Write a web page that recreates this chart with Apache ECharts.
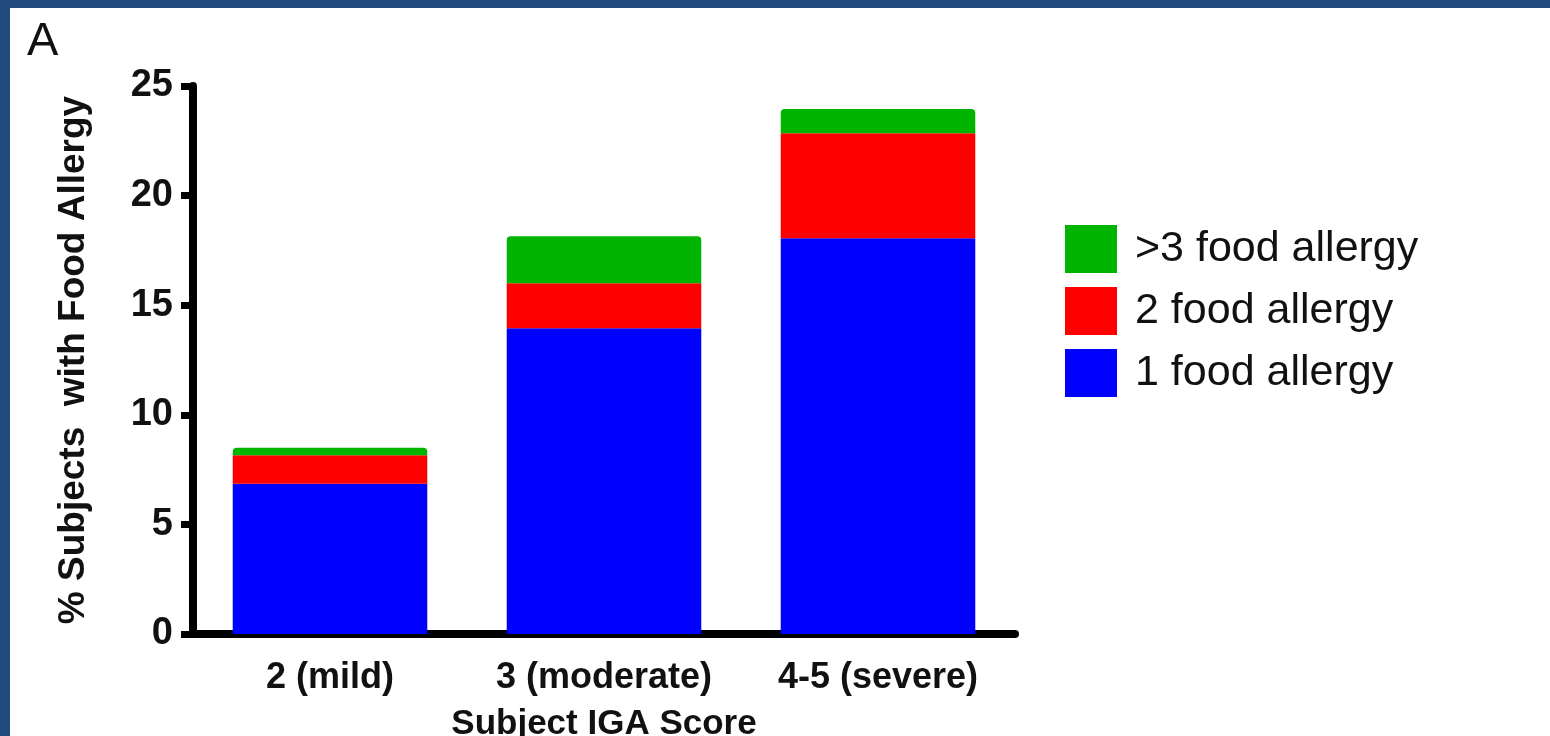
<!DOCTYPE html>
<html>
<head>
<meta charset="utf-8">
<script src="https://cdn.jsdelivr.net/npm/echarts@6/dist/echarts.min.js"></script>
<style>
html,body{margin:0;padding:0;background:#fff;}
#chart{width:1550px;height:736px;}
</style>
</head>
<body>
<div id="chart"></div>
<script>
const categories = ['2 (mild)', '3 (moderate)', '4-5 (severe)'];
const oneAllergy = [6.85, 13.95, 18.05];
const twoAllergy = [1.3, 2.05, 4.8];
const moreAllergy = [0.35, 2.15, 1.1];
const seriesNames = ['1 food allergy', '2 food allergy', '>3 food allergy'];
const legendOrder = ['>3 food allergy', '2 food allergy', '1 food allergy'];
const yTicks = [0, 5, 10, 15, 20, 25];

const FONT = '"Liberation Sans", Arial, Helvetica, sans-serif';
const chart = echarts.init(document.getElementById('chart'));
chart.setOption({
  backgroundColor: '#ffffff',
  animation: false,
  textStyle: { fontFamily: FONT },
  graphic: [
    { type: 'rect', shape: { x: 0, y: 0, width: 1550, height: 8 }, style: { fill: '#214a7e' }, z: 100 },
    { type: 'rect', shape: { x: 0, y: 0, width: 10, height: 736 }, style: { fill: '#214a7e' }, z: 100 },
    { type: 'text', left: 27, top: 19, style: { text: 'A', font: '47px ' + FONT, fill: '#111' } }
  ],
  legend: {
    data: legendOrder,
    orient: 'vertical',
    left: 1065,
    top: 225,
    padding: 0,
    itemWidth: 52,
    itemHeight: 48,
    itemGap: 14,
    icon: 'rect',
    textStyle: { fontSize: 43, color: '#111', fontFamily: FONT, padding: [0, 0, 0, 13] }
  },
  grid: { left: 193, right: 535, top: 86, bottom: 102, containLabel: false, outerBoundsMode: 'none' },
  xAxis: {
    type: 'category',
    data: categories,
    name: 'Subject IGA Score',
    nameLocation: 'middle',
    nameGap: 73,
    nameTextStyle: { fontSize: 35, fontWeight: 'bold', color: '#111', fontFamily: FONT },
    axisLine: { lineStyle: { color: '#000', width: 8 } },
    axisTick: { alignWithLabel: true, length: 15, lineStyle: { color: '#000', width: 7 } },
    axisLabel: { interval: 0, hideOverlap: false, fontSize: 36, fontWeight: 'bold', color: '#111', margin: 26, fontFamily: FONT }
  },
  yAxis: {
    type: 'value',
    min: 0,
    max: 25,
    interval: 5,
    name: '% Subjects  with Food Allergy',
    nameLocation: 'middle',
    nameGap: 101,
    nameTextStyle: { fontSize: 37, fontWeight: 'bold', color: '#111', fontFamily: FONT },
    axisLine: { show: true, lineStyle: { color: '#000', width: 8 } },
    axisTick: { show: true, length: 12, lineStyle: { color: '#000', width: 7 } },
    axisLabel: { fontSize: 38, fontWeight: 'bold', color: '#111', margin: 20, fontFamily: FONT,
      formatter: v => yTicks.includes(v) ? String(v) : '' },
    splitLine: { show: false }
  },
  series: [
    { name: seriesNames[0], type: 'bar', stack: 'a', data: oneAllergy, barCategoryGap: '29%',
      itemStyle: { color: '#0000ff' } },
    { name: seriesNames[1], type: 'bar', stack: 'a', data: twoAllergy,
      itemStyle: { color: '#ff0000' } },
    { name: seriesNames[2], type: 'bar', stack: 'a', data: moreAllergy,
      itemStyle: { color: '#00b400', borderRadius: [4, 4, 0, 0] } }
  ]
});
</script>
</body>
</html>
